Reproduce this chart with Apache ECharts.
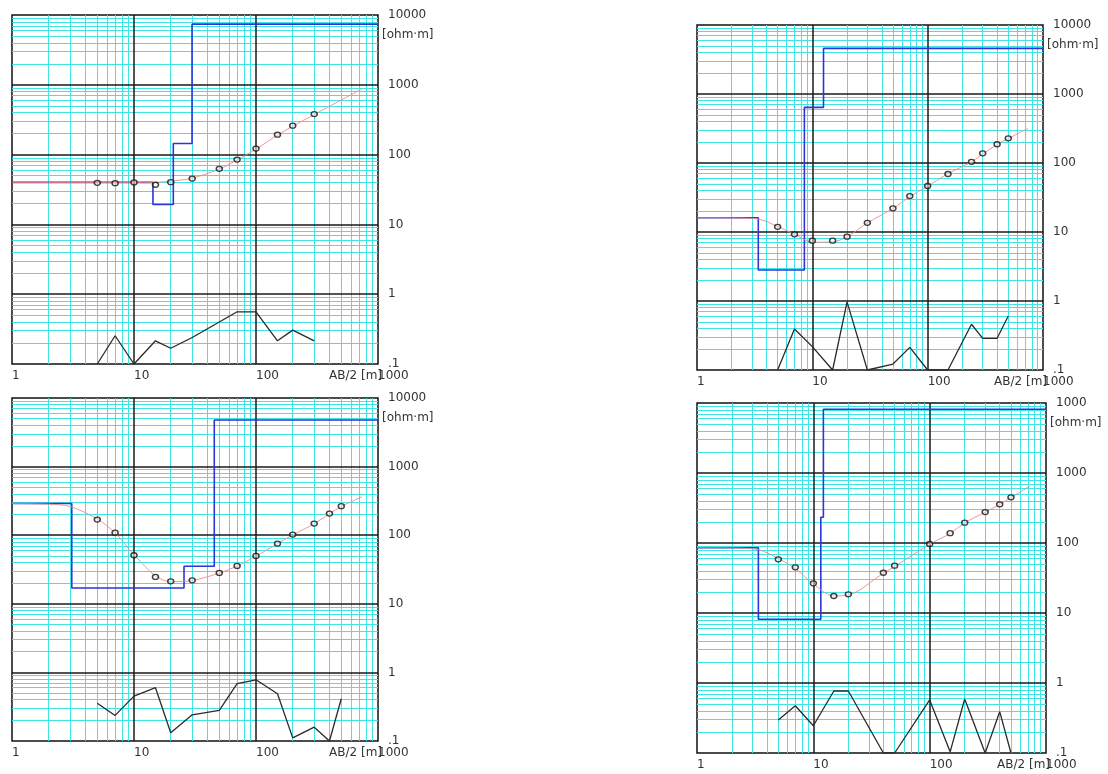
<!DOCTYPE html>
<html>
<head>
<meta charset="utf-8">
<style>
html,body{margin:0;padding:0;background:#fff;}
#chart{width:1108px;height:774px;}
</style>
<script src="https://cdn.jsdelivr.net/npm/echarts/dist/echarts.min.js"></script>
</head>
<body>
<div id="chart"></div>
<script>
// ---------- tick labels ----------
const xTickLabels = {1: '1', 10: '10', 100: '100', 1000: '1000'};
const yTickLabels = {0.1: '.1', 1: '1', 10: '10', 100: '100', 1000: '1000', 10000: '10000'};
const yTickLabelsBR = {0.1: '.1', 1: '1', 10: '10', 100: '100', 1000: '1000', 10000: '1000'};
const xName = 'AB/2 [m]';
const yName = '[ohm·m]';
const minorMultipliers = [2, 3, 4, 5, 6, 7, 8, 9];
const xDecades = [1, 10, 100];
const yDecades = [0.1, 1, 10, 100, 1000];
const xMajor = [10, 100];
const yMajor = [1, 10, 100, 1000];
const xRange = [1, 1000];
const yRange = [0.1, 10000];

// ---------- top-left panel ----------
const tlAB   = [5, 7, 10, 15, 20, 30, 50, 70, 100, 150, 200, 300];
const tlRho  = [39.4, 38.9, 40, 37, 40.2, 45.4, 62.5, 84.8, 122, 193, 260, 381];
const tlErr  = [0.1, 0.254, 0.1, 0.215, 0.168, 0.24, 0.40, 0.56, 0.56, 0.215, 0.306, 0.215];
const tlModelX = [1, 14.3, 14.3, 21, 21, 29.9, 29.9, 1000];
const tlModelY = [40, 40, 19.3, 19.3, 144, 144, 7400, 7400];
const tlFitX = [1, 5, 7, 10, 12, 15, 20, 30, 50, 70, 100, 150, 200, 300, 735];
const tlFitY = [40, 40, 40, 40, 39.5, 40, 41.5, 46, 62, 84, 120, 190, 255, 375, 869];

// ---------- top-right panel ----------
const trAB   = [5, 7, 10, 15, 20, 30, 50, 70, 100, 150, 240, 300, 400, 500];
const trRho  = [11.9, 9.27, 7.48, 7.48, 8.55, 13.6, 22, 33.2, 46.4, 69.3, 104, 138, 187, 228];
const trErr  = [0.1, 0.393, 0.218, 0.1, 0.97, 0.1, 0.122, 0.213, 0.1, 0.1, 0.46, 0.288, 0.288, 0.607];
const trModelX = [1, 3.4, 3.4, 8.53, 8.53, 12.5, 12.5, 1000];
const trModelY = [16.1, 16.1, 2.81, 2.81, 641, 641, 4590, 4590];
const trFitX = [1, 2, 3.4, 5, 7, 10, 15, 20, 30, 50, 70, 100, 150, 240, 300, 400, 743];
const trFitY = [16.1, 16, 15.4, 12, 9.3, 7.1, 7.2, 8.5, 13.5, 22, 32.5, 46, 70, 104, 135, 185, 318];

// ---------- bottom-left panel ----------
const blAB   = [5, 7, 10, 15, 20, 30, 50, 70, 100, 150, 200, 300, 400, 500];
const blRho  = [169, 109, 51, 24.6, 21.3, 22, 28.2, 35.6, 49.9, 75.6, 102, 148, 207, 265];
const blErr  = [0.356, 0.236, 0.451, 0.598, 0.132, 0.241, 0.279, 0.684, 0.78, 0.489, 0.111, 0.159, 0.1, 0.413];
const blModelX = [1, 3.09, 3.09, 25.7, 25.7, 45.5, 45.5, 1000];
const blModelY = [290, 290, 17, 17, 35.3, 35.3, 4770, 4770];
const blFitX = [1, 2, 3, 5, 7, 10, 15, 20, 30, 50, 70, 100, 150, 200, 300, 400, 500, 735];
const blFitY = [290, 283, 262, 172, 108, 52, 25.5, 21, 21.8, 28, 35.5, 49.5, 75, 101, 147, 205, 262, 362];

// ---------- bottom-right panel ----------
const brAB   = [5, 7, 10, 15, 20, 40, 50, 100, 150, 200, 300, 400, 500];
const brRho  = [58.5, 45, 26.5, 17.5, 18.5, 37.6, 47.4, 96.8, 138, 195, 277, 357, 450];
const brErr  = [0.296, 0.474, 0.245, 0.769, 0.769, 0.1, 0.1, 0.572, 0.104, 0.59, 0.1, 0.389, 0.1];
const brModelX = [1, 3.37, 3.37, 11.6, 11.6, 12.2, 12.2, 1000];
const brModelY = [85.7, 85.7, 8.13, 8.13, 233, 233, 8130, 8130];
const brFitX = [1, 2, 3.4, 5, 7, 10, 15, 20, 40, 50, 100, 150, 200, 300, 400, 500, 730];
const brFitY = [85.7, 85, 80, 60, 43, 26, 17.5, 18, 37, 46, 96, 137, 193, 275, 355, 445, 652];

// ---------- layout (grid rectangles) ----------
const panels = [
  {rect: {left: 12, top: 15, width: 366, height: 349}, ab: tlAB, rho: tlRho, err: tlErr, mx: tlModelX, my: tlModelY, fx: tlFitX, fy: tlFitY, yl: yTickLabels},
  {rect: {left: 697, top: 25, width: 346, height: 345}, ab: trAB, rho: trRho, err: trErr, mx: trModelX, my: trModelY, fx: trFitX, fy: trFitY, yl: yTickLabels},
  {rect: {left: 12, top: 398, width: 366, height: 343}, ab: blAB, rho: blRho, err: blErr, mx: blModelX, my: blModelY, fx: blFitX, fy: blFitY, yl: yTickLabels},
  {rect: {left: 697, top: 403, width: 349, height: 350}, ab: brAB, rho: brRho, err: brErr, mx: brModelX, my: brModelY, fx: brFitX, fy: brFitY, yl: yTickLabelsBR}
];

const zip = (a, b) => a.map((v, i) => [v, b[i]]);
const xMinor = [];
xDecades.forEach(d => minorMultipliers.forEach(m => xMinor.push(+(m * d).toPrecision(3))));
const yMinor = [];
yDecades.forEach(d => minorMultipliers.forEach(m => yMinor.push(+(m * d).toPrecision(3))));
const vSeg = v => ({coords: [[v, yRange[0]], [v, yRange[1]]]});
const hSeg = v => ({coords: [[xRange[0], v], [xRange[1], v]]});
const minorSegments = xMinor.map(vSeg).concat(yMinor.map(hSeg));
const majorSegments = xMajor.map(vSeg).concat(yMajor.map(hSeg));

const FONT = 'DejaVu Sans';
const labelStyle = {color: '#333', fontSize: 12, fontFamily: FONT};

const grids = [], xAxes = [], yAxes = [], series = [];
panels.forEach((p, i) => {
  grids.push(Object.assign({show: true, backgroundColor: '#fff', borderColor: '#111', borderWidth: 1.5, containLabel: false, outerBoundsMode: 'none', z: 0}, p.rect));
  xAxes.push({
    type: 'log', logBase: 10, min: xRange[0], max: xRange[1], gridIndex: i,
    axisLine: {show: false}, axisTick: {show: false},
    minorTick: {show: false}, minorSplitLine: {show: false}, splitArea: {show: false},
    splitLine: {show: false},
    axisLabel: Object.assign({formatter: v => xTickLabels[Math.round(v)] || '', align: 'left', margin: 6, showMinLabel: true, showMaxLabel: true, hideOverlap: false}, labelStyle),
    name: xName, nameLocation: 'end', nameGap: 4, nameMoveOverlap: false,
    nameTextStyle: Object.assign({align: 'right', verticalAlign: 'top', padding: [6, 0, 0, 0]}, labelStyle)
  });
  yAxes.push({
    type: 'log', logBase: 10, min: yRange[0], max: yRange[1], gridIndex: i, position: 'right',
    axisLine: {show: false}, axisTick: {show: false},
    minorTick: {show: false}, minorSplitLine: {show: false}, splitArea: {show: false},
    splitLine: {show: false},
    axisLabel: Object.assign({formatter: v => {
      const k = Object.keys(p.yl).find(key => Math.abs(Math.log10(+key) - Math.log10(v)) < 1e-6);
      return k !== undefined ? p.yl[k] : '';
    }, margin: 10, showMinLabel: true, showMaxLabel: true, hideOverlap: false}, labelStyle),
    name: yName, nameLocation: 'end', nameGap: -20, nameMoveOverlap: false,
    nameTextStyle: Object.assign({align: 'left', verticalAlign: 'middle', padding: [0, 0, 0, 4]}, labelStyle)
  });
  // minor (cyan) grid lines
  series.push({
    type: 'lines', coordinateSystem: 'cartesian2d', xAxisIndex: i, yAxisIndex: i, z: 1,
    data: minorSegments, silent: true, animation: false, symbol: 'none',
    lineStyle: {color: '#3fe4e4', width: 1, opacity: 1, type: 'solid', curveness: 0}
  });
  // major (black) grid lines
  series.push({
    type: 'lines', coordinateSystem: 'cartesian2d', xAxisIndex: i, yAxisIndex: i, z: 2,
    data: majorSegments, silent: true, animation: false, symbol: 'none',
    lineStyle: {color: '#1a1a1a', width: 1.5, opacity: 1, type: 'solid', curveness: 0}
  });
  // layered model (blue step)
  series.push({
    type: 'line', xAxisIndex: i, yAxisIndex: i, z: 3, data: zip(p.mx, p.my),
    showSymbol: false, lineStyle: {color: '#2b35d8', width: 1.6}, silent: true
  });
  // fitted curve (light red)
  series.push({
    type: 'line', xAxisIndex: i, yAxisIndex: i, z: 4, data: zip(p.fx, p.fy),
    showSymbol: false, smooth: 0.3, lineStyle: {color: '#f08a8a', width: 1, opacity: 0.9}, silent: true
  });
  // measured apparent resistivity
  series.push({
    type: 'scatter', xAxisIndex: i, yAxisIndex: i, z: 5, data: zip(p.ab, p.rho),
    symbol: 'circle', symbolSize: [6, 5],
    itemStyle: {color: 'rgba(255,255,255,0.5)', borderColor: '#111', borderWidth: 1.4}, silent: true
  });
  // misfit curve (black)
  series.push({
    type: 'line', xAxisIndex: i, yAxisIndex: i, z: 4, data: zip(p.ab, p.err),
    showSymbol: false, lineStyle: {color: '#2a2a2a', width: 1.3}, silent: true
  });
});

const chart = echarts.init(document.getElementById('chart'), null, {renderer: 'canvas'});
chart.setOption({
  animation: false,
  backgroundColor: '#fff',
  grid: grids,
  xAxis: xAxes,
  yAxis: yAxes,
  series: series
});
</script>
</body>
</html>
